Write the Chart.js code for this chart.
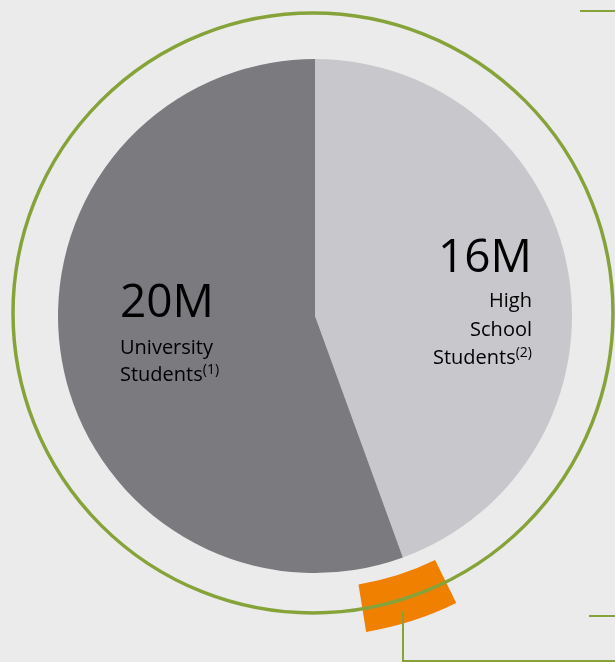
<!DOCTYPE html>
<html lang="en">
<head>
  <meta charset="UTF-8" />
  <title>Students</title>
  <script src="https://cdn.jsdelivr.net/npm/chart.js"></script>
  <style>
    body { margin: 0; background: #ebebeb; width: 615px; height: 662px; overflow: hidden; position: relative; font-family: "Open Sans", sans-serif; }
    #chart { position: absolute; left: -5px; top: -4px; }
    .big { position: absolute; font-size: 46px; line-height: 46px; color: #000; white-space: nowrap; }
    .small { position: absolute; font-size: 20px; line-height: 20px; color: #000; white-space: nowrap; }
    .small sup { font-size: 14px; vertical-align: 7px; line-height: 0; }
    .gl { position: absolute; background: #86a33a; }
  </style>
</head>
<body>
  <canvas id="chart" width="640" height="640"></canvas>

  <div class="big" style="left:120px; top:276px;" id="valLeft"></div>
  <div class="small" style="left:120px; top:337px;" id="left1"></div>
  <div class="small" style="left:120px; top:364px;" id="left2"></div>

  <div class="big" style="right:83px; top:231px;" id="valRight"></div>
  <div class="small" style="right:83px; top:290px;" id="right1"></div>
  <div class="small" style="right:83px; top:319px;" id="right2"></div>
  <div class="small" style="right:83px; top:347px;" id="right3"></div>

  <!-- connector lines -->
  <div class="gl" style="left:580px; top:10px; width:35px; height:2px;"></div>
  <div class="gl" style="left:589px; top:615px; width:26px; height:2px;"></div>
  <div class="gl" style="left:402px; top:611px; width:2px; height:51px;"></div>
  <div class="gl" style="left:402px; top:660px; width:213px; height:2px;"></div>

  <script>
    // slices, clockwise from the top
    const categories = ["High School Students", "University Students"];
    const values = [16, 20];
    const valueLabels = ["16M", "20M"];
    const footnotes = ["(2)", "(1)"];
    const sliceColors = ["#c8c7cc", "#7b7a7f"];

    // orange marker band (degrees from the top, clockwise): before, band, after
    const bandValues = [153.8, 17, 189.2];

    // labels
    document.getElementById("valRight").textContent = valueLabels[0];
    document.getElementById("right1").textContent = "High";
    document.getElementById("right2").textContent = "School";
    document.getElementById("right3").innerHTML = "Students<sup>" + footnotes[0] + "</sup>";

    document.getElementById("valLeft").textContent = valueLabels[1];
    document.getElementById("left1").textContent = "University";
    document.getElementById("left2").innerHTML = "Students<sup>" + footnotes[1] + "</sup>";

    const ringPlugin = {
      id: "ring",
      afterDatasetsDraw(chart) {
        const arc = chart.getDatasetMeta(2).data[0];
        const ctx = chart.ctx;
        ctx.save();
        ctx.beginPath();
        ctx.arc(arc.x - 2, arc.y - 3, 300, 0, Math.PI * 2);
        ctx.lineWidth = 3.5;
        ctx.strokeStyle = "#86a33a";
        ctx.stroke();
        ctx.restore();
      }
    };

    const clear = "rgba(0,0,0,0)";

    new Chart(document.getElementById("chart"), {
      type: "pie",
      data: {
        labels: categories,
        datasets: [
          {
            data: bandValues,
            backgroundColor: [clear, "#f08000", clear],
            weight: 48
          },
          {
            data: [1],
            backgroundColor: [clear],
            weight: 15
          },
          {
            label: "Students",
            data: values,
            backgroundColor: sliceColors,
            weight: 257
          }
        ]
      },
      options: {
        responsive: false,
        animation: false,
        events: [],
        layout: { padding: 0 },
        elements: {
          arc: { borderWidth: 0, hoverBorderWidth: 0, hoverOffset: 0, offset: 0 }
        },
        plugins: {
          legend: { display: false },
          tooltip: { enabled: false }
        }
      },
      plugins: [ringPlugin]
    });
  </script>
</body>
</html>
